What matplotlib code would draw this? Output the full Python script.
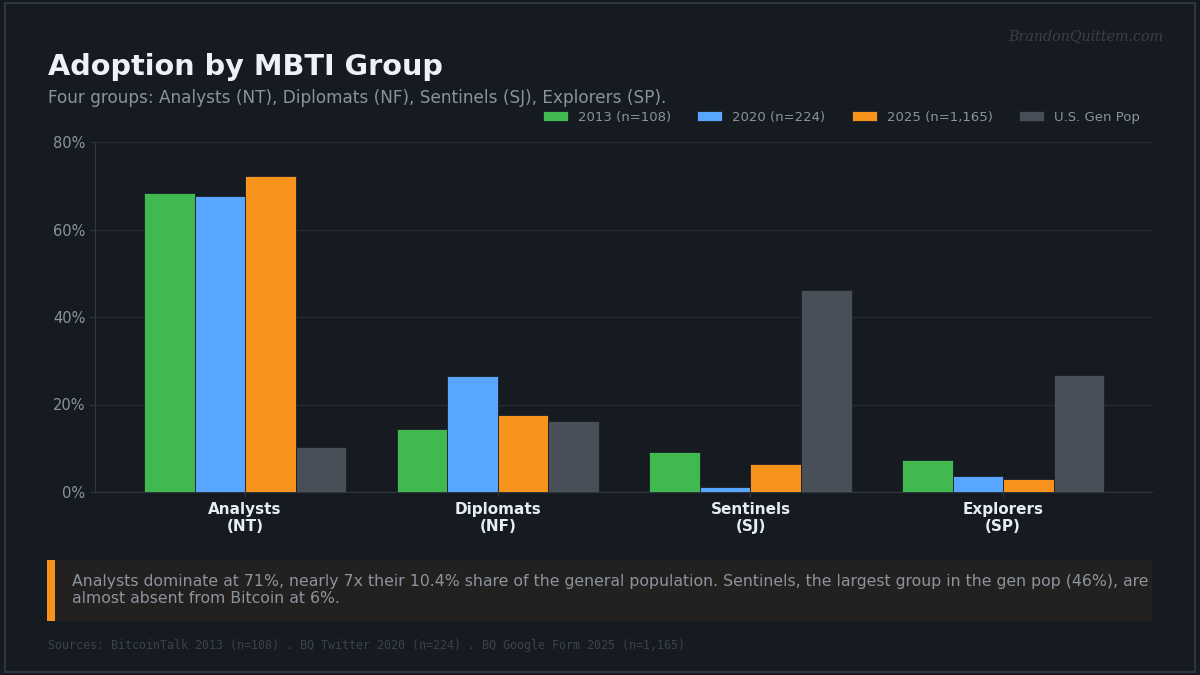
import matplotlib
matplotlib.use("Agg")
import matplotlib.pyplot as plt
from matplotlib.patches import Rectangle
import numpy as np

# data
groups = ["Analysts\n(NT)", "Diplomats\n(NF)", "Sentinels\n(SJ)", "Explorers\n(SP)"]
series_names = ["2013 (n=108)", "2020 (n=224)", "2025 (n=1,165)", "U.S. Gen Pop"]
v2013 = [68.3, 14.5, 9.1, 7.3]
v2020 = [67.7, 26.6, 1.1, 3.7]
v2025 = [72.2, 17.6, 6.3, 3.0]
genpop = [10.4, 16.2, 46.2, 26.7]
yticks = [0, 20, 40, 60, 80]

bg = "#161a21"
colors = ["#3fb950", "#58a6ff", "#f7931a", "#484f58"]
muted = "#8b949e"

fig = plt.figure(figsize=(12, 6.75), dpi=100)
fig.patch.set_facecolor(bg)

# outer frame
fig.patches.append(Rectangle((0.004, 0.004), 0.992, 0.992, transform=fig.transFigure,
                             fill=False, edgecolor="#30363d", linewidth=1.5))

ax = fig.add_axes([95 / 1200, 1 - 492 / 675, (1152 - 95) / 1200, (492 - 142) / 675])
ax.set_facecolor(bg)

x = np.arange(len(groups))
w = 0.2
all_vals = [v2013, v2020, v2025, genpop]
for k, vals in enumerate(all_vals):
    ax.bar(x + (k - 1.5) * w, vals, width=w, color=colors[k], edgecolor="#1b1f26",
           linewidth=0.6, label=series_names[k], zorder=3)

ax.set_xlim(-0.594, 3.589)
ax.set_ylim(0, 80)
ax.set_yticks(yticks)
ax.set_yticklabels([f"{t}%" for t in yticks])
ax.set_xticks(x)
ax.set_xticklabels(groups, fontweight="bold", fontsize=11)
ax.grid(axis="y", color="#262b33", linewidth=1, zorder=0)
ax.tick_params(axis="y", colors="#30363d", labelcolor=muted, labelsize=10.5)
ax.tick_params(axis="x", colors="#30363d", labelcolor="#e6edf3", labelsize=11)
for s in ["top", "right"]:
    ax.spines[s].set_visible(False)
for s in ["left", "bottom"]:
    ax.spines[s].set_color("#30363d")

leg = ax.legend(loc="center right", bbox_to_anchor=(0.9934, 1.071), ncol=4, frameon=False,
                fontsize=9.5, labelcolor=muted, handlelength=1.9, handleheight=0.75,
                handletextpad=0.75, columnspacing=2.0, borderaxespad=0.0)

fig.text(48 / 1200, 1 - 67 / 675, "Adoption by MBTI Group", fontsize=20.7, fontweight="bold",
         color="#eef2f6", va="center")
fig.text(48 / 1200, 1 - 98 / 675, "Four groups: Analysts (NT), Diplomats (NF), Sentinels (SJ), Explorers (SP).",
         fontsize=12.2, color=muted, va="center")
fig.text(1163 / 1200, 1 - 37 / 675, "BrandonQuittem.com", fontsize=10.3, color="#3b4048",
         family="DejaVu Serif", style="italic", ha="right", va="center")

# callout box
fig.patches.append(Rectangle((47 / 1200, 1 - 621 / 675), (1152 - 47) / 1200, 61 / 675,
                             transform=fig.transFigure, facecolor="#23211f", edgecolor="none"))
fig.patches.append(Rectangle((47 / 1200, 1 - 621 / 675), 8 / 1200, 61 / 675,
                             transform=fig.transFigure, facecolor="#f7931a", edgecolor="none"))
fig.text(72 / 1200, 1 - 590 / 675,
         "Analysts dominate at 71%, nearly 7x their 10.4% share of the general population. Sentinels, the largest group in the gen pop (46%), are\nalmost absent from Bitcoin at 6%.",
         fontsize=11.3, color=muted, va="center", linespacing=1.16)

fig.text(48 / 1200, 1 - 645 / 675,
         "Sources: BitcoinTalk 2013 (n=108) . BQ Twitter 2020 (n=224) . BQ Google Form 2025 (n=1,165)",
         fontsize=8.4, color="#3d434b", family="DejaVu Sans Mono", va="center")

fig.savefig("out.png", dpi=100, facecolor=bg)
